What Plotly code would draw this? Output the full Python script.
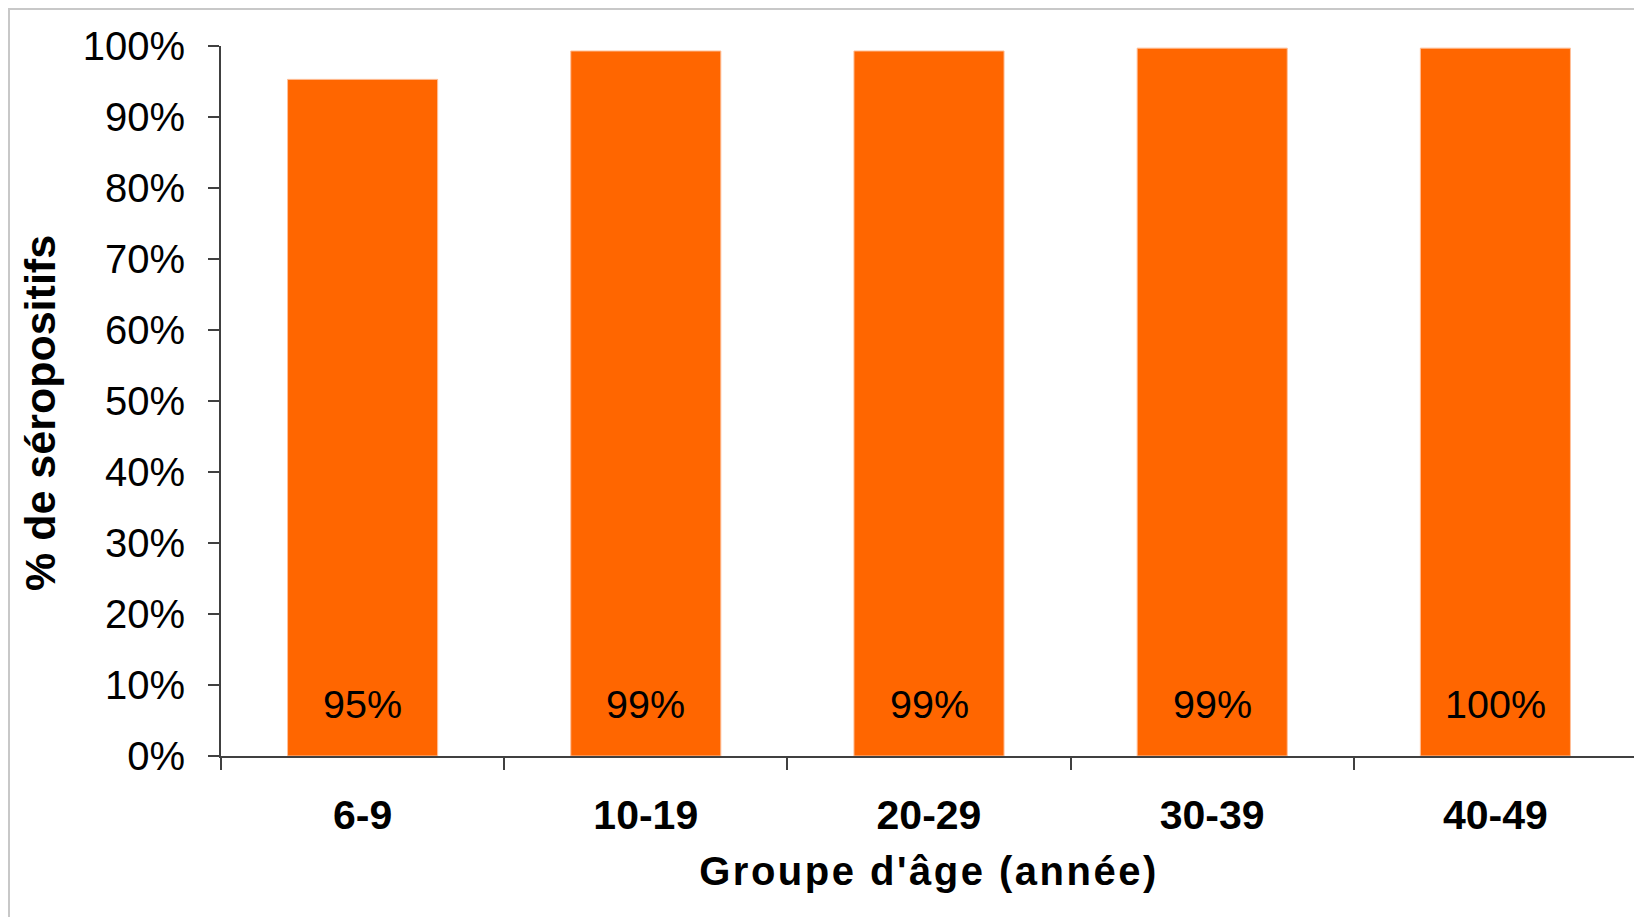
import plotly.graph_objects as go

categories = ["6-9", "10-19", "20-29", "30-39", "40-49"]
values = [0.953, 0.993, 0.993, 0.997, 0.997]
labels = ["95%", "99%", "99%", "99%", "100%"]
y_ticks = [i / 10 for i in range(11)]
y_tick_text = [f"{i * 10}%" for i in range(11)]

FONT = "Arial, Liberation Sans, sans-serif"
W, H = 1642, 917
# page has an 8px body margin, so layout coords = page coords - 8
L, R, T, B = 213, 13, 38, 169
PW, PH = W - L - R, H - T - B

fig = go.Figure()
fig.add_trace(go.Bar(
    x=categories, y=values,
    marker=dict(color="#FF6600", line=dict(color="#FFC09A", width=1)),
    width=0.53,
    hoverinfo="skip",
))

for c, lab in zip(categories, labels):
    fig.add_annotation(x=c, y=0, xref="x", yref="y", text=lab, showarrow=False,
                       yanchor="middle", yshift=52,
                       font=dict(family=FONT, size=39.5, color="black"))

# outer frame
fig.add_shape(type="rect", xref="paper", yref="paper",
              x0=(1 - L) / PW, x1=(1633 - L) / PW,
              y0=(H - B - 930) / PH, y1=(H - B - 1) / PH,
              line=dict(color="#C8C8C8", width=2), fillcolor="rgba(0,0,0,0)", layer="below")

fig.update_layout(
    width=W, height=H,
    margin=dict(l=L, r=R, t=T, b=B, autoexpand=False),
    paper_bgcolor="white", plot_bgcolor="white",
    showlegend=False,
    font=dict(family=FONT, color="black"),
    xaxis=dict(
        type="category",
        tickson="boundaries",
        ticks="outside", ticklen=12, tickcolor="#404040", tickwidth=2,
        showline=True, linecolor="#404040", linewidth=2,
        showgrid=False,
        tickfont=dict(family=FONT, size=41, color="black", weight="bold"),
        ticklabelstandoff=22,
        title=dict(text="<span style=\"letter-spacing:2.5px\">Groupe d'âge (année)</span>", standoff=20,
                   font=dict(family=FONT, size=40, color="black", weight="bold")),
        fixedrange=True,
    ),
    yaxis=dict(
        range=[0, 1],
        tickvals=y_ticks, ticktext=y_tick_text,
        ticks="outside", ticklen=11, tickcolor="#404040", tickwidth=2,
        showline=True, linecolor="#404040", linewidth=2,
        showgrid=False, zeroline=False,
        tickfont=dict(family=FONT, size=40, color="black"),
        ticklabelstandoff=15,
        title=dict(text="% de séropositifs&nbsp;&nbsp;", standoff=14,
                   font=dict(family=FONT, size=43, color="black", weight="bold")),
        fixedrange=True,
    ),
)

fig.write_html("out.html", config={"displayModeBar": False})
